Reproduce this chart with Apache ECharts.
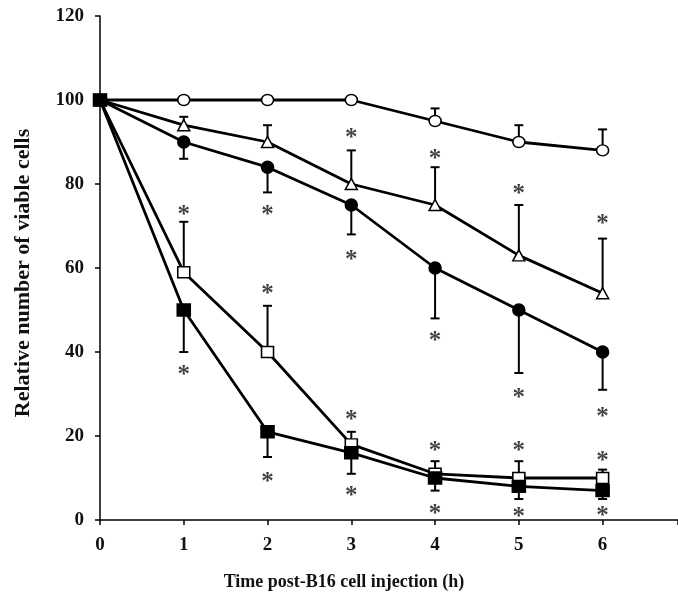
<!DOCTYPE html>
<html>
<head>
<meta charset="utf-8">
<script src="https://cdn.jsdelivr.net/npm/echarts@6/dist/echarts.min.js"></script>
<style>
  html, body { margin: 0; padding: 0; background: #fff; }
  #chart { width: 678px; height: 598px; }
</style>
</head>
<body>
<div id="chart"></div>
<script>
// time points (h)
var times = [0, 1, 2, 3, 4, 5, 6];

// means
var openCircle = [100, 100, 100, 100, 95, 90, 88];
var openTriangle = [100, 94, 90, 80, 75, 63, 54];
var filledCircle = [100, 90, 84, 75, 60, 50, 40];
var openSquare = [100, 59, 40, 18, 11, 10, 10];
var filledSquare = [100, 50, 21, 16, 10, 8, 7];

// error bar ends (null = no bar)
var openCircleErr = [null, null, null, null, 98, 94, 93];
var openTriangleErr = [null, 96, 94, 88, 84, 75, 67];
var filledCircleErr = [null, 86, 78, 68, 48, 35, 31];
var openSquareErr = [null, 71, 51, 21, 14, 14, 12];
var filledSquareErr = [null, 40, 15, 11, 7, 5, 5];

// significance asterisks
var starX = [3, 4, 5, 6, 1, 2, 3, 4, 5, 6, 2, 3, 4, 5, 6, 1, 2, 3, 4, 5, 6];
var starY = [92, 87, 78.6, 71.6, 73.6, 73.6, 63, 43.6, 30, 25.7, 54.8, 24.8, 17.4, 17.4, 15, 35.7, 10, 6.7, 2.4, 1.7, 1.9];

var yTicks = [0, 20, 40, 60, 80, 100, 120];

function pairs(ys) {
  return times.map(function (t, i) { return [t, ys[i]]; });
}
function errPairs(ys, ends) {
  var out = [];
  times.forEach(function (t, i) {
    if (ends[i] != null) out.push([t, ys[i], ends[i]]);
  });
  return out;
}

var font = "'Liberation Serif', 'DejaVu Serif', serif";

function errSeries(ys, ends) {
  return {
    type: "custom",
    data: errPairs(ys, ends),
    z: 1,
    renderItem: function (params, api) {
      var p = api.coord([api.value(0), api.value(1)]);
      var e = api.coord([api.value(0), api.value(2)]);
      var style = { stroke: "#000", lineWidth: 2 };
      return {
        type: "group",
        children: [
          { type: "line", shape: { x1: p[0], y1: p[1], x2: e[0], y2: e[1] }, style: style },
          { type: "line", shape: { x1: e[0] - 4.5, y1: e[1], x2: e[0] + 4.5, y2: e[1] }, style: style }
        ]
      };
    }
  };
}

function lineSeries(ys, symbol, fill, size) {
  return {
    type: "line",
    data: pairs(ys),
    symbol: symbol,
    symbolSize: size,
    showSymbol: true,
    z: 3,
    lineStyle: { color: "#000", width: 2.8 },
    itemStyle: { color: fill, borderColor: "#000", borderWidth: 1.5 },
    emphasis: { disabled: true }
  };
}

var chart = echarts.init(document.getElementById("chart"));

var option = {
  animation: false,
  backgroundColor: "#fff",
  grid: { left: 100, right: 0, top: 16, bottom: 78, containLabel: false, outerBoundsMode: "none" },
  xAxis: {
    type: "value",
    min: 0,
    max: 6.9,
    interval: 1,
    name: "Time post-B16 cell injection (h)",
    nameLocation: "middle",
    nameGap: 53,
    nameTextStyle: { fontFamily: font, fontWeight: "bold", fontSize: 18, color: "#111", padding: [0, 90, 0, 0] },
    axisLine: { show: true, lineStyle: { color: "#000", width: 1.5 } },
    axisTick: { show: true, length: 5, lineStyle: { color: "#000", width: 1.5 } },
    axisLabel: {
      margin: 16, fontFamily: font, fontWeight: "bold", fontSize: 19, color: "#111",
      formatter: function (v) { return Math.abs(v - Math.round(v)) < 1e-6 ? String(Math.round(v)) : ""; }
    },
    splitLine: { show: false }
  },
  yAxis: {
    type: "value",
    min: yTicks[0],
    max: yTicks[yTicks.length - 1],
    interval: 20,
    name: "Relative number of viable cells",
    nameLocation: "middle",
    nameGap: 66,
    nameTextStyle: { fontFamily: font, fontWeight: "bold", fontSize: 22, color: "#111", padding: [0, 10, 0, 0] },
    axisLine: { show: true, lineStyle: { color: "#000", width: 1.5 } },
    axisTick: { show: true, length: 5, lineStyle: { color: "#000", width: 1.5 } },
    axisLabel: { margin: 16, fontFamily: font, fontWeight: "bold", fontSize: 19, color: "#111" },
    splitLine: { show: false }
  },
  series: [
    errSeries(openCircle, openCircleErr),
    errSeries(openTriangle, openTriangleErr),
    errSeries(filledCircle, filledCircleErr),
    errSeries(openSquare, openSquareErr),
    errSeries(filledSquare, filledSquareErr),
    lineSeries(openCircle, "circle", "#fff", [12, 11]),
    lineSeries(openTriangle, "triangle", "#fff", [12, 11]),
    lineSeries(filledCircle, "circle", "#000", 12),
    lineSeries(openSquare, "rect", "#fff", [12, 11]),
    lineSeries(filledSquare, "rect", "#000", [13, 12]),
    {
      type: "scatter",
      data: starX.map(function (x, i) { return [x, starY[i]]; }),
      symbolSize: 1,
      itemStyle: { color: "rgba(0,0,0,0)" },
      z: 4,
      label: {
        show: true,
        position: "inside",
        formatter: "*",
        fontFamily: font,
        fontWeight: "bold",
        fontSize: 25,
        color: "#111",
        offset: [0, 5]
      },
      emphasis: { disabled: true }
    }
  ]
};

chart.setOption(option);
</script>
</body>
</html>
